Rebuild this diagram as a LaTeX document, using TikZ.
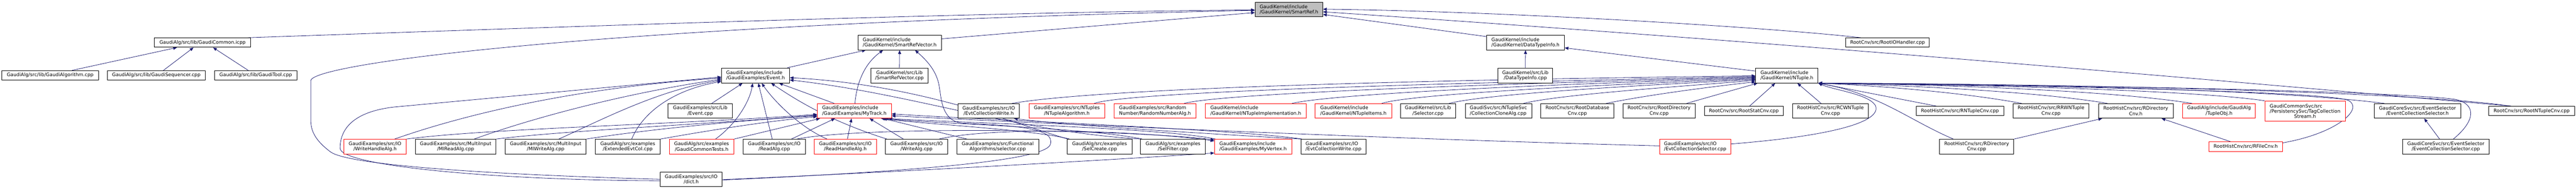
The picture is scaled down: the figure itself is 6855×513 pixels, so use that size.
\documentclass[tikz,border=0pt]{standalone}
\usepackage{fontspec}
\usepackage{calc}
\setmainfont{DejaVu Sans}
\usetikzlibrary{arrows.meta}
\definecolor{edgeblue}{HTML}{191970}
\definecolor{rootgray}{HTML}{BFBFBF}
\newcommand\gnodefont{\fontsize{12.7}{14}\selectfont}
\pgfdeclarelayer{bglayer}
\pgfdeclarelayer{edgelayer}
\pgfsetlayers{bglayer,edgelayer,main}
\begin{document}
\begin{tikzpicture}[x=1pt,y=-1pt,
  box/.style={draw=black, line width=1.2pt, inner sep=0pt, align=center, font=\gnodefont, fill=white},
  rbox/.style={box, draw=red},
  lft/.style={align=left},
  edge/.style={draw=edgeblue, line width=1.1pt, -{Triangle[length=10pt,width=8pt]}}]
\useasboundingbox (0,0) rectangle (6855,513);
\begin{pgfonlayer}{bglayer}
\fill[white] (0,0) rectangle (6855,513);
\end{pgfonlayer}
% ---------- level 0
\node[box, fill=rootgray, lft, minimum width=180pt, minimum height=39pt] (sref) at (3430,25.5) {GaudiKernel/include\\/GaudiKernel/SmartRef.h};
% ---------- level 1
\node[box, minimum width=256pt, minimum height=25pt] (icpp) at (539,113.5) {GaudiAlg/src/lib/GaudiCommon.icpp};
\node[box, lft, minimum width=222pt, minimum height=39pt] (srvh) at (2394,113.5) {GaudiKernel/include\\/GaudiKernel/SmartRefVector.h};
\node[box, lft, minimum width=207pt, minimum height=39pt] (dtih) at (4059.5,113.5) {GaudiKernel/include\\/GaudiKernel/DataTypeInfo.h};
\node[box, minimum width=222pt, minimum height=25pt] (rioh) at (5023,113.5) {RootCnv/src/RootIOHandler.cpp};
% ---------- level 2
\node[box, minimum width=257pt, minimum height=25pt] (galg) at (133.5,200.5) {GaudiAlg/src/lib/GaudiAlgorithm.cpp};
\node[box, minimum width=260pt, minimum height=25pt] (gseq) at (416,200.5) {GaudiAlg/src/lib/GaudiSequencer.cpp};
\node[box, minimum width=219pt, minimum height=25pt] (gtool) at (680.5,200.5) {GaudiAlg/src/lib/GaudiTool.cpp};
\node[box, lft, minimum width=181pt, minimum height=40pt] (evh) at (2010.5,201) {GaudiExamples/include\\/GaudiExamples/Event.h};
\node[box, minimum width=153pt, minimum height=40pt] (srvc) at (2393.5,201) {GaudiKernel/src/Lib\\/SmartRefVector.cpp};
\node[box, minimum width=146pt, minimum height=40pt] (dtic) at (4059,201) {GaudiKernel/src/Lib\\/DataTypeInfo.cpp};
\node[box, lft, minimum width=166pt, minimum height=40pt] (ntup) at (4755,201) {GaudiKernel/include\\/GaudiKernel/NTuple.h};
% ---------- level 3
\node[box, minimum width=171pt, minimum height=39pt] (evc) at (1863.5,295.5) {GaudiExamples/src/Lib\\/Event.cpp};
\node[rbox, lft, minimum width=197pt, minimum height=39pt] (mytr) at (2273.5,295.5) {GaudiExamples/include\\/GaudiExamples/MyTrack.h};
\node[box, minimum width=164pt, minimum height=39pt] (ecwh) at (2631,295.5) {GaudiExamples/src/IO\\/EvtCollectionWrite.h};
\node[rbox, minimum width=202pt, minimum height=39pt] (ntalg) at (2839,295.5) {GaudiExamples/src/NTuples\\/NTupleAlgorithm.h};
\node[rbox, lft, minimum width=217pt, minimum height=39pt] (rna) at (3073.5,295.5) {GaudiExamples/src/Random\\Number/RandomNumberAlg.h};
\node[rbox, lft, minimum width=269pt, minimum height=39pt] (nti) at (3341.5,295.5) {GaudiKernel/include\\/GaudiKernel/NTupleImplementation.h};
\node[rbox, lft, minimum width=203pt, minimum height=39pt] (ntit) at (3601.5,295.5) {GaudiKernel/include\\/GaudiKernel/NTupleItems.h};
\node[box, minimum width=146pt, minimum height=39pt] (sel) at (3800,295.5) {GaudiKernel/src/Lib\\/Selector.cpp};
\node[box, lft, minimum width=177pt, minimum height=39pt] (cca) at (3987.5,295.5) {GaudiSvc/src/NTupleSvc\\/CollectionCloneAlg.cpp};
\node[box, minimum width=195pt, minimum height=39pt] (rdb) at (4197.5,295.5) {RootCnv/src/RootDatabase\\Cnv.cpp};
\node[box, minimum width=192pt, minimum height=39pt] (rdir) at (4415,295.5) {RootCnv/src/RootDirectory\\Cnv.cpp};
\node[box, minimum width=209pt, minimum height=25pt] (rstat) at (4640.5,295.5) {RootCnv/src/RootStatCnv.cpp};
\node[box, minimum width=202pt, minimum height=39pt] (rcwn) at (4871,295.5) {RootHistCnv/src/RCWNTuple\\Cnv.cpp};
\node[box, minimum width=233pt, minimum height=25pt] (rnt) at (5215.5,295.5) {RootHistCnv/src/RNTupleCnv.cpp};
\node[box, minimum width=202pt, minimum height=39pt] (rrwn) at (5458,295.5) {RootHistCnv/src/RRWNTuple\\Cnv.cpp};
\node[box, minimum width=199pt, minimum height=39pt] (rdirh) at (5683.5,295.5) {RootHistCnv/src/RDirectory\\Cnv.h};
\node[rbox, minimum width=194pt, minimum height=39pt] (tobj) at (5905,295.5) {GaudiAlg/include/GaudiAlg\\/TupleObj.h};
\node[rbox, minimum width=214pt, minimum height=54pt] (tcs) at (6134,296) {\makebox[\widthof{/PersistencySvc/TagCollection}][l]{GaudiCommonSvc/src}\\/PersistencySvc/TagCollection\\Stream.h};
\node[box, minimum width=230pt, minimum height=39pt] (ecsh) at (6433,295.5) {GaudiCoreSvc/src/EventSelector\\/EventCollectionSelector.h};
\node[box, minimum width=228pt, minimum height=25pt] (rntc) at (6737,295.5) {RootCnv/src/RootNTupleCnv.cpp};
% ---------- level 4
\node[rbox, minimum width=166pt, minimum height=39pt] (whah) at (998,390.5) {GaudiExamples/src/IO\\/WriteHandleAlg.h};
\node[box, minimum width=215pt, minimum height=39pt] (mira) at (1212.5,390.5) {GaudiExamples/src/MultiInput\\/MIReadAlg.cpp};
\node[box, minimum width=216pt, minimum height=39pt] (miwa) at (1452,390.5) {GaudiExamples/src/MultiInput\\/MIWriteAlg.cpp};
\node[box, minimum width=173pt, minimum height=39pt] (eec) at (1670.5,390.5) {GaudiAlg/src/examples\\/ExtendedEvtCol.cpp};
\node[rbox, minimum width=172pt, minimum height=39pt] (gct) at (1867,390.5) {GaudiAlg/src/examples\\/GaudiCommonTests.h};
\node[box, minimum width=165pt, minimum height=39pt] (ra) at (2060.5,390.5) {GaudiExamples/src/IO\\/ReadAlg.cpp};
\node[rbox, minimum width=165pt, minimum height=39pt] (rha) at (2249.5,390.5) {GaudiExamples/src/IO\\/ReadHandleAlg.h};
\node[box, minimum width=166pt, minimum height=39pt] (wa) at (2439,390.5) {GaudiExamples/src/IO\\/WriteAlg.cpp};
\node[box, minimum width=218pt, minimum height=39pt] (fsel) at (2655,390.5) {GaudiExamples/src/Functional\\Algorithms/selector.cpp};
\node[box, minimum width=172pt, minimum height=39pt] (sc) at (2926,390.5) {GaudiAlg/src/examples\\/SelCreate.cpp};
\node[box, minimum width=173pt, minimum height=39pt] (sf) at (3121.5,390.5) {GaudiAlg/src/examples\\/SelFilter.cpp};
\node[rbox, lft, minimum width=205pt, minimum height=39pt] (myv) at (3334.5,390.5) {GaudiExamples/include\\/GaudiExamples/MyVertex.h};
\node[box, lft, minimum width=173pt, minimum height=39pt] (ecwc) at (3548.5,390.5) {GaudiExamples/src/IO\\/EvtCollectionWrite.cpp};
\node[rbox, lft, minimum width=190pt, minimum height=39pt] (ecsel) at (4511,390.5) {GaudiExamples/src/IO\\/EvtCollectionSelector.cpp};
\node[box, minimum width=198pt, minimum height=39pt] (rdirc) at (5260,390.5) {RootHistCnv/src/RDirectory\\Cnv.cpp};
\node[rbox, minimum width=196pt, minimum height=25pt] (rfile) at (5976,390.5) {RootHistCnv/src/RFileCnv.h};
\node[box, minimum width=231pt, minimum height=39pt] (ecsc) at (6508.5,390.5) {GaudiCoreSvc/src/EventSelector\\/EventCollectionSelector.cpp};
% ---------- level 5
\node[box, minimum width=165pt, minimum height=39pt] (dict) at (1839.5,477.5) {GaudiExamples/src/IO\\/dict.h};
% ================= edges
\begin{pgfonlayer}{edgelayer}
% into SmartRef.h
\draw[edge] ([xshift=-8pt]icpp.north east) .. controls (1400,75) and (2600,32) .. ([yshift=-1pt]sref.west);
\draw[edge] (dict.west) .. controls (1300,465) and (930,440) .. (880,405) .. controls (840,375) and (827,350) .. (827,320) -- (827,215) .. controls (827,170) and (1600,65) .. ([yshift=-2pt]sref.west);
\draw[edge] ([yshift=10pt]srvh.east) -- ([yshift=-8pt]sref.west);
\draw[edge] ([yshift=-4pt]dtih.north west) -- ([yshift=-13pt]sref.east);
\draw[edge] ([xshift=-71pt]rioh.north) .. controls (4700,72) and (4000,30) .. ([yshift=1pt]sref.east);
\draw[edge] ([xshift=-55pt]rntc.north) .. controls (6300,250) and (5000,130) .. ([yshift=-6pt]sref.east);
% into GaudiCommon.icpp
\draw[edge] ([xshift=58.5pt]galg.north) -- ([xshift=-68pt]icpp.south);
\draw[edge] ([xshift=19pt]gseq.north) -- ([xshift=-24pt]icpp.south);
\draw[edge] ([xshift=-20pt]gtool.north) -- ([xshift=28pt]icpp.south);
% into SmartRefVector.h
\draw[edge] ([xshift=85pt]evh.north) -- ([xshift=-90pt]srvh.south);
\draw[edge] ([xshift=1.5pt]mytr.north) .. controls (2280,220) and (2300,170) .. ([xshift=-44pt]srvh.south);
\draw[edge] (srvc.north) -- (srvh.south);
\draw[edge] ([yshift=-2pt]dict.east) .. controls (2400,458) and (2780,430) .. (2795,385) .. controls (2810,340) and (2700,335) .. (2560,328) .. controls (2505,322) and (2505,260) .. (2500,235) .. controls (2495,190) and (2465,160) .. ([xshift=41pt]srvh.south);
% into DataTypeInfo.h
\draw[edge] (dtic.north) -- (dtih.south);
\draw[edge] ([yshift=-9pt]ntup.north west) -- ([yshift=-14pt]dtih.east);
% into Event.h
\draw[edge] ([yshift=-4pt]dict.west) .. controls (1300,480) and (905,440) .. (905,395) .. controls (905,330) and (960,295) .. (1050,285) .. controls (1300,262) and (1700,225) .. ([yshift=-4pt]evh.west);
\draw[edge] ([xshift=52pt]whah.north) .. controls (1250,300) and (1550,232) .. ([yshift=-7pt]evh.west);
\draw[edge] ([xshift=49.5pt]mira.north) .. controls (1400,320) and (1650,250) .. ([yshift=-10pt]evh.west);
\draw[edge] ([xshift=35pt]miwa.north) .. controls (1600,320) and (1750,240) .. ([yshift=-13pt]evh.west);
\draw[edge] ([xshift=10.5pt]eec.north) .. controls (1710,300) and (1790,240) .. ([yshift=-16pt]evh.west);
\draw[edge] ([xshift=30.5pt]evc.north) -- ([xshift=-34.5pt]evh.south);
\draw[edge] ([xshift=37pt]gct.north) .. controls (1960,330) and (1995,270) .. ([xshift=-7.5pt]evh.south);
\draw[edge] ([xshift=-5.5pt]ra.north) -- ([xshift=7.5pt]evh.south);
\draw[edge] ([xshift=-48.5pt]rha.north) .. controls (2130,340) and (2060,270) .. ([xshift=16.5pt]evh.south);
\draw[edge] ([xshift=-79pt]wa.north) .. controls (2200,320) and (2110,260) .. ([xshift=41.5pt]evh.south);
\draw[edge] ([xshift=-53.5pt]mytr.north) -- ([xshift=62.5pt]evh.south);
\draw[edge] ([xshift=-84pt]sc.north) .. controls (2700,330) and (2450,225) .. ([yshift=-6pt]evh.east);
\draw[edge] ([xshift=-86pt]sf.north) .. controls (2700,350) and (2430,250) .. ([yshift=-12pt]evh.east);
% into MyTrack.h
\draw[edge] (whah.north east) .. controls (1300,342) and (1800,332) .. ([yshift=-9pt]mytr.west);
\draw[edge] (mira.north east) .. controls (1500,348) and (1900,330) .. ([yshift=-11pt]mytr.west);
\draw[edge] (miwa.north east) .. controls (1700,348) and (1950,322) .. ([yshift=-13pt]mytr.west);
\draw[edge] (eec.north east) .. controls (1900,345) and (2050,322) .. ([yshift=-15pt]mytr.west);
\draw[edge] (gct.north east) -- ([xshift=-91.5pt]mytr.south);
\draw[edge] ([xshift=45.5pt]ra.north) -- ([xshift=-51.5pt]mytr.south);
\draw[edge] ([xshift=5.5pt]rha.north) -- ([xshift=-7.5pt]mytr.south);
\draw[edge] ([xshift=-35pt]wa.north) -- ([xshift=40.5pt]mytr.south);
\draw[edge] ([xshift=-82pt]fsel.north) -- ([xshift=76.5pt]mytr.south);
\draw[edge] ([xshift=-80pt]sc.north) .. controls (2750,345) and (2450,330) .. ([xshift=-28pt]mytr.south east);
\draw[edge] ([xshift=-82pt]sf.north) .. controls (2900,340) and (2460,328) .. ([xshift=-18pt]mytr.south east);
\draw[edge] ([xshift=-100pt]myv.north) .. controls (3100,340) and (2500,325) .. ([xshift=-8pt]mytr.south east);
\draw[edge] ([xshift=-84pt]ecwc.north) .. controls (3300,345) and (2600,318) .. ([yshift=-8pt]mytr.east);
\draw[edge] ([yshift=2pt]ecsel.west) .. controls (3600,368) and (2600,320) .. ([yshift=-13pt]mytr.east);
% into MyVertex.h
\draw[edge] ([yshift=-1pt]dict.east) .. controls (2300,462) and (2900,430) .. ([yshift=-17pt]myv.west);
\draw[edge] ([xshift=60pt]ra.north) .. controls (2300,335) and (3000,345) .. ([yshift=18pt]myv.west);
\draw[edge] ([xshift=60pt]wa.north) .. controls (2650,335) and (3050,350) .. ([yshift=15pt]myv.west);
% EvtCollectionWrite
\draw[edge] ([xshift=-86pt]ecwc.north) .. controls (3200,355) and (2850,335) .. ([xshift=67pt]ecwh.south);
% into NTuple.h from the left
\draw[edge] ([xshift=62pt]ecwh.north) .. controls (2900,240) and (3600,215) .. ([yshift=-1pt]ntup.west);
\draw[edge] ([xshift=73pt]ntalg.north) .. controls (3000,245) and (3800,222) .. ([yshift=-3pt]ntup.west);
\draw[edge] ([xshift=77.5pt]rna.north) .. controls (3250,250) and (3900,225) .. ([yshift=-5pt]ntup.west);
\draw[edge] ([xshift=96.5pt]nti.north) .. controls (3550,250) and (4100,225) .. ([yshift=-7pt]ntup.west);
\draw[edge] ([xshift=75.5pt]ntit.north) .. controls (3750,252) and (4200,228) .. ([yshift=-9pt]ntup.west);
\draw[edge] ([xshift=56pt]sel.north) .. controls (3950,252) and (4300,230) .. ([yshift=-11pt]ntup.west);
\draw[edge] ([xshift=66.5pt]cca.north) .. controls (4150,252) and (4450,232) .. ([yshift=-13pt]ntup.west);
\draw[edge] ([xshift=76.5pt]rdb.north) .. controls (4400,250) and (4580,228) .. ([yshift=-17pt]ntup.west);
\draw[edge] ([xshift=73pt]rdir.north) -- ([xshift=-78pt]ntup.south);
\draw[edge] ([xshift=15.5pt]rstat.north) -- ([xshift=-31pt]ntup.south);
\draw[edge] ([xshift=-25pt]rcwn.north) -- ([xshift=28pt]ntup.south);
% into NTuple.h from the right
\draw[edge] ([yshift=7pt]ecsel.east) .. controls (4900,360) and (5010,320) .. (4990,280) .. controls (4970,250) and (4880,240) .. (ntup.south east);
\draw[edge] ([xshift=-63.5pt]rnt.north) -- (ntup.south east);
\draw[edge] ([xshift=-78pt]rrwn.north) .. controls (5200,242) and (4950,226) .. (ntup.south east);
\draw[edge] ([xshift=-75.5pt]rdirh.north) .. controls (5400,240) and (5000,225) .. (ntup.south east);
\draw[edge] ([xshift=-62pt]rdirc.north) .. controls (5080,320) and (5000,250) .. (ntup.south east);
\draw[edge] ([xshift=-72pt]tobj.north) .. controls (5600,238) and (5100,224) .. (ntup.south east);
\draw[edge] (tcs.north west) .. controls (5800,235) and (5100,224) .. (ntup.south east);
\draw[edge] ([xshift=-88pt]ecsh.north) .. controls (6000,232) and (5200,223) .. (ntup.south east);
\draw[edge] ([xshift=-59pt]rntc.north) .. controls (6400,240) and (5300,222) .. (ntup.south east);
\draw[edge] ([yshift=10pt]rfile.east) .. controls (6220,355) and (6290,290) .. (6250,268) .. controls (6200,240) and (5200,225) .. (ntup.south east);
\draw[edge] ([xshift=20pt]ecsc.north) .. controls (6590,320) and (6590,275) .. (6530,264) .. controls (6300,238) and (5300,224) .. (ntup.south east);
% others
\draw[edge] (rdirc.north east) -- ([xshift=-89.5pt]rdirh.south);
\draw[edge] ([xshift=-40pt]rfile.north) -- ([xshift=68.5pt]rdirh.south);
\draw[edge] ([xshift=-16.5pt]ecsc.north) -- ([xshift=18pt]ecsh.south);
\end{pgfonlayer}
\end{tikzpicture}
\end{document}
